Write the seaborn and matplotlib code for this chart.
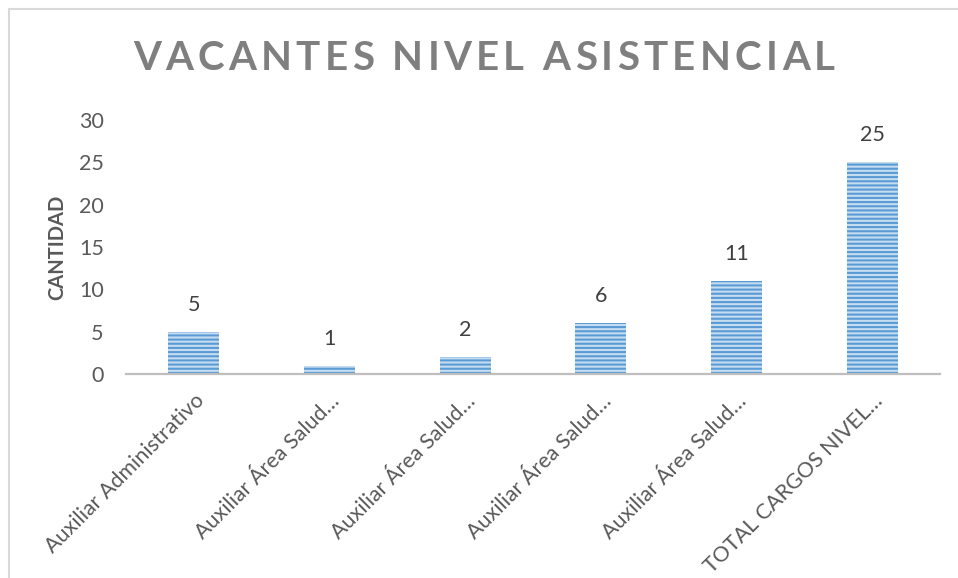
import matplotlib
matplotlib.use("Agg")
import matplotlib.pyplot as plt
import seaborn as sns
from matplotlib.lines import Line2D

# data
categorias = [
    "Auxiliar Administrativo",
    "Auxiliar Área Salud…",
    "Auxiliar Área Salud…",
    "Auxiliar Área Salud…",
    "Auxiliar Área Salud…",
    "TOTAL CARGOS NIVEL…",
]
cantidad = [5, 1, 2, 6, 11, 25]
y_ticks = [0, 5, 10, 15, 20, 25, 30]

titulo = "VACANTES NIVEL ASISTENCIAL"
etiqueta_y = "CANTIDAD"

sns.set_theme(style="white")
plt.rcParams["font.family"] = ["Lato", "DejaVu Sans"]
plt.rcParams["hatch.linewidth"] = 1.5

W, H = 958, 578
fig = plt.figure(figsize=(W / 100, H / 100), dpi=100)
ax = fig.add_axes([126 / W, 1 - 374 / H, (940 - 126) / W, (374 - 120) / H])

sns.barplot(x=list(range(len(categorias))), y=cantidad, color="#bdd7ee",
            width=0.376, ax=ax)
for p in ax.patches:
    p.set_facecolor("#c6dcf0")
    p.set_edgecolor("#5b9bd5")
    p.set_hatch("----")
    p.set_linewidth(0)

# value labels
for i, v in enumerate(cantidad):
    ax.annotate(str(v), (i, v), xytext=(0, 27), textcoords="offset pixels",
                ha="center", va="center", fontsize=15.5, color="#404040")

ax.set_xlim(-0.5, len(categorias) - 0.5)
ax.set_ylim(0, 30)
ax.set_yticks(y_ticks)
ax.set_yticklabels([str(t) for t in y_ticks], fontsize=15.5, color="#595959")
ax.set_xticks(range(len(categorias)))
ax.set_xticklabels(categorias, rotation=45, ha="right", va="top",
                   rotation_mode="anchor", fontsize=15.5, color="#595959")
ax.tick_params(axis="y", length=0, pad=16)
ax.tick_params(axis="x", length=0, pad=12)
ax.set_xlabel("")
ax.set_ylabel("")

for s in ["top", "right", "left"]:
    ax.spines[s].set_visible(False)
ax.spines["bottom"].set_color("#bfbfbf")
ax.spines["bottom"].set_linewidth(1.6)

# title with wide letter spacing, placed glyph by glyph
renderer = fig.canvas.get_renderer()
t_size, t_left, t_right, t_y = 29, 133, 835, 58
glyphs = []
for ch in titulo:
    t = fig.text(0, 1 - t_y / H, ch, ha="left", va="center", fontsize=t_size,
                 fontweight="bold", color="#7f7f7f")
    glyphs.append((t, t.get_window_extent(renderer).width))
total = sum(w for _, w in glyphs)
gap = (t_right - t_left - total) / (len(glyphs) - 1)
x = t_left
for t, w in glyphs:
    t.set_x(x / W)
    x += w + gap

fig.text(57 / W, 1 - 247 / H, etiqueta_y, rotation=90, ha="center",
         va="center", fontsize=14.5, fontweight="bold", color="#595959")

# chart frame (light grey border)
fig.add_artist(Line2D([9 / W, 1], [1 - 9 / H, 1 - 9 / H],
                      transform=fig.transFigure, color="#d9d9d9", lw=1.5))
fig.add_artist(Line2D([9 / W, 9 / W], [0, 1 - 9 / H],
                      transform=fig.transFigure, color="#d9d9d9", lw=1.5))

fig.savefig("out.png", dpi=100, facecolor="white")
